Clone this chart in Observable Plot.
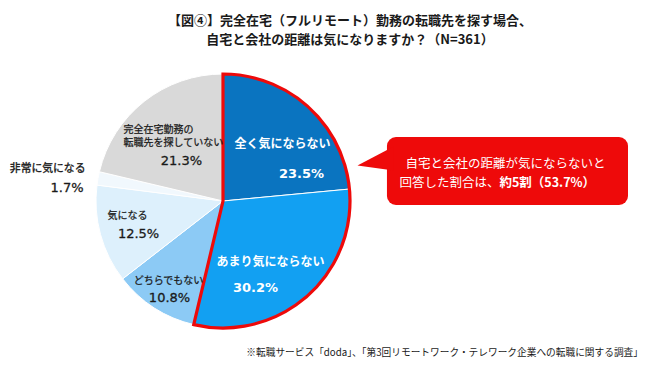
<!DOCTYPE html>
<html>
<head>
<meta charset="utf-8">
<script src="https://cdn.jsdelivr.net/npm/d3@7"></script>
<script src="https://cdn.jsdelivr.net/npm/@observablehq/plot@0.6"></script>
<style>
  html, body { margin: 0; padding: 0; background: #fff; }
  body { width: 650px; height: 371px; overflow: hidden; font-family: "Noto Sans CJK JP", sans-serif; color: #1a1a1a; }
  #title { width: 600px; padding: 10px 0 0 50px; text-align: center; font-weight: bold; font-size: 13px; line-height: 19px; height: 38px; }
  #chart svg { display: block; }
  #note { width: 643px; text-align: right; font-size: 9.7px; line-height: 20px; height: 20px; }
</style>
</head>
<body>
<div id="title">【図④】完全在宅（フルリモート）勤務の転職先を探す場合、<br>自宅と会社の距離は気になりますか？（N=361）</div>
<div id="chart"></div>
<div id="note">※転職サービス「doda」、「第3回リモートワーク・テレワーク企業への転職に関する調査」</div>
<script>
// ---- data ----
const categories = ["全く気にならない", "あまり気にならない", "どちらでもない", "気になる", "非常に気になる", "完全在宅勤務の転職先を探していない"];
const values = [23.5, 30.2, 10.8, 12.5, 1.7, 21.3];
const sliceColors = ["#0a74c0", "#12a0f2", "#8ccaf5", "#ddf0fc", "#f1f8fd", "#d9d9d9"];
const highlighted = ["全く気にならない", "あまり気にならない"];
const calloutLine1 = "自宅と会社の距離が気にならないと";
const calloutLine2a = "回答した割合は、";
const calloutLine2b = "約5割（53.7%）";

const rows = categories.map((c, i) => ({category: c, value: values[i]}));
const colorOf = d3.scaleOrdinal(categories, sliceColors);
const pct = i => values[i].toFixed(1) + "%";

// ---- layout (unit-circle coordinates of the pie) ----
// kind: "w" white bold label, "wp" white bold percent, "d" dark label, "dp" dark percent, "db" dark larger label
const labelLayout = [
  {text: "全く気にならない", x: 0.465, y: 0.449, anchor: "middle", kind: "w"},
  {text: pct(0), x: 0.614, y: 0.220, anchor: "middle", kind: "wp"},
  {text: "あまり気にならない", x: 0.370, y: -0.480, anchor: "middle", kind: "w"},
  {text: pct(1), x: 0.252, y: -0.677, anchor: "middle", kind: "wp"},
  {text: "どちらでもない", x: -0.433, y: -0.622, anchor: "middle", kind: "d"},
  {text: pct(2), x: -0.425, y: -0.756, anchor: "middle", kind: "dp"},
  {text: "気になる", x: -0.913, y: -0.110, anchor: "start", kind: "d"},
  {text: pct(3), x: -0.669, y: -0.252, anchor: "middle", kind: "dp"},
  {text: "非常に気になる", x: -1.087, y: 0.260, anchor: "end", kind: "db"},
  {text: pct(4), x: -1.102, y: 0.110, anchor: "end", kind: "dp"},
  {text: "完全在宅勤務の", x: -0.787, y: 0.566, anchor: "start", kind: "d"},
  {text: "転職先を探していない", x: -0.787, y: 0.460, anchor: "start", kind: "d"},
  {text: pct(5), x: -0.331, y: 0.323, anchor: "middle", kind: "dp"}
];
const calloutBox = [{x1: 1.291, x2: 3.189, y1: -0.031, y2: 0.504}];
const calloutPointer = [{x: 1.055, y: 0.283}, {x: 1.340, y: 0.433}, {x: 1.340, y: 0.244}];
const calloutText = {xMid: 2.220, xSplit: 2.173, y1: 0.299, y2: 0.142};

const red = "#ee0a0a";

function pieMark(index, scales) {
  const {x, y} = scales;
  const cx = x(0), cy = y(0), r = x(1) - x(0);
  const g = d3.create("svg:g").attr("transform", `translate(${cx},${cy})`);
  const arcs = d3.pie().sort(null).value(d => d.value)(rows);
  const arc = d3.arc().innerRadius(0).outerRadius(r);
  g.selectAll("path.slice").data(arcs).join("path")
    .attr("class", "slice")
    .attr("d", arc)
    .attr("fill", d => colorOf(d.data.category))
    .attr("stroke", "#ffffff")
    .attr("stroke-width", 1);
  const hl = arcs.filter(a => highlighted.includes(a.data.category));
  g.append("path")
    .attr("d", arc({startAngle: d3.min(hl, a => a.startAngle), endAngle: d3.max(hl, a => a.endAngle)}))
    .attr("fill", "none")
    .attr("stroke", red)
    .attr("stroke-width", 3.2)
    .attr("stroke-linejoin", "miter");
  return g.node();
}

const jp = "Noto Sans CJK JP";
const num = "DejaVu Sans";
const dark = "#1a1a1a";
const kindStyle = {
  w:  {fill: "#ffffff", fontWeight: "bold", fontSize: 12, fontFamily: jp},
  wp: {fill: "#ffffff", fontWeight: "bold", fontSize: 13, fontFamily: num},
  d:  {fill: dark, stroke: dark, strokeWidth: 0.25, fontWeight: "normal", fontSize: 10, fontFamily: jp},
  db: {fill: dark, stroke: dark, strokeWidth: 0.35, fontWeight: "normal", fontSize: 10.8, fontFamily: jp},
  dp: {fill: dark, stroke: dark, strokeWidth: 0.3, fontWeight: "normal", fontSize: 13, fontFamily: num}
};
const labelMarks = [];
for (const kind of Object.keys(kindStyle)) {
  for (const anchor of ["start", "middle", "end"]) {
    const sub = labelLayout.filter(d => d.kind === kind && d.anchor === anchor);
    if (sub.length) labelMarks.push(Plot.text(sub, {x: "x", y: "y", text: "text", textAnchor: anchor, ...kindStyle[kind]}));
  }
}

const plot = Plot.plot({
  width: 650,
  height: 294,
  marginLeft: 96,
  marginRight: 300,
  marginTop: 26,
  marginBottom: 14,
  x: {domain: [-1, 1], axis: null},
  y: {domain: [-1, 1], axis: null},
  style: {fontFamily: jp, background: "transparent", overflow: "visible"},
  marks: [
    pieMark,
    Plot.rect(calloutBox, {x1: "x1", x2: "x2", y1: "y1", y2: "y2", fill: red, rx: 9}),
    Plot.line(calloutPointer, {x: "x", y: "y", fill: red, stroke: "none", curve: "linear-closed"}),
    ...labelMarks,
    Plot.text([calloutLine1], {x: calloutText.xMid, y: calloutText.y1, text: d => d, fill: "#ffffff", fontSize: 12.5, fontFamily: jp}),
    Plot.text([calloutLine2a], {x: calloutText.xSplit, y: calloutText.y2, text: d => d, fill: "#ffffff", fontSize: 12.5, fontFamily: jp, textAnchor: "end"}),
    Plot.text([calloutLine2b], {x: calloutText.xSplit, y: calloutText.y2, text: d => d, fill: "#ffffff", fontSize: 12.5, fontFamily: jp, fontWeight: "bold", textAnchor: "start"})
  ]
});
document.getElementById("chart").appendChild(plot);
</script>
</body>
</html>
